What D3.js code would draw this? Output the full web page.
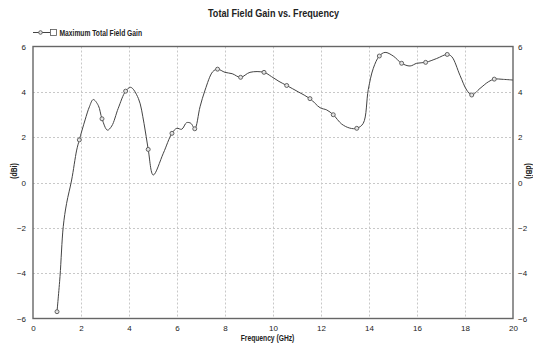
<html>
<head>
<meta charset="utf-8">
<title>Total Field Gain vs. Frequency</title>
<style>
  body { margin: 0; background: #fff; }
  text { font-family: "Liberation Sans", Arial, sans-serif; fill: #222; }
</style>
</head>
<body>
<script src="https://d3js.org/d3.v7.min.js"></script>
<script>
// frequency points (GHz) of the curve
var freq = [1.0, 1.125, 1.26, 1.4, 1.61, 1.82, 1.93, 2.17, 2.35, 2.51, 2.72, 2.875, 3.1, 3.28, 3.55,
            3.86, 4.07, 4.39, 4.625, 4.8, 5.01, 5.43, 5.79, 5.99, 6.2, 6.4, 6.58, 6.74, 6.96, 7.17,
            7.49, 7.69, 8.0, 8.3, 8.65, 9.04, 9.625, 9.94, 10.25, 10.57, 11.05, 11.54, 11.96, 12.24,
            12.51, 12.86, 13.2, 13.49, 13.76, 13.97, 14.18, 14.43, 14.67, 15.01, 15.36, 15.71, 15.99,
            16.36, 16.82, 17.26, 17.45, 17.79, 18.07, 18.28, 18.625, 18.97, 19.22, 19.6, 20.0]
// gain (dBi)
var gain = [-5.70, -4.15, -1.95, -0.92, 0.11, 1.43, 1.88, 2.76, 3.34, 3.66, 3.40, 2.81, 2.31, 2.49, 3.27,
            4.03, 4.20, 3.71, 2.61, 1.46, 0.33, 1.29, 2.17, 2.39, 2.35, 2.64, 2.61, 2.37, 3.34, 4.08,
            4.89, 5.00, 4.86, 4.80, 4.64, 4.86, 4.86, 4.67, 4.46, 4.28, 4.00, 3.70, 3.30, 3.20,
            2.99, 2.58, 2.40, 2.39, 2.61, 4.10, 5.04, 5.58, 5.74, 5.58, 5.26, 5.14, 5.26,
            5.30, 5.47, 5.65, 5.55, 4.73, 4.08, 3.86, 4.15, 4.44, 4.56, 4.55, 4.52]
// points that carry a marker
var markerFreq = [1.0, 1.93, 2.875, 3.86, 4.8, 5.79, 6.74, 7.69, 8.65, 9.625, 10.57, 11.54,
                  12.51, 13.49, 14.43, 15.36, 16.36, 17.26, 18.28, 19.22]
var xTicks = [0, 2, 4, 6, 8, 10, 12, 14, 16, 18, 20]
var yTicks = [-6, -4, -2, 0, 2, 4, 6]

var width = 533, height = 347
var padding = {left: 33, right: 20, top: 46.5, bottom: 28.5}

var svg = d3.select('body').append('svg')
    .attr('width', width)
    .attr('height', height)

var xScale = d3.scaleLinear().domain([0, 20]).range([padding.left, width - padding.right])
var yScale = d3.scaleLinear().domain([-6, 6]).range([height - padding.bottom, padding.top])

var pts = freq.map(function(f, i){ return {f: f, g: gain[i]} })

// grid
svg.append('g').selectAll('line')
    .data(xTicks.slice(1, -1))
    .enter().append('line')
    .attr('x1', function(d){ return Math.round(xScale(d)) + 0.5 })
    .attr('x2', function(d){ return Math.round(xScale(d)) + 0.5 })
    .attr('y1', yScale(6)).attr('y2', yScale(-6))
    .attr('stroke', '#c8c8c8').attr('stroke-dasharray', '2,2')
svg.append('g').selectAll('line')
    .data(yTicks.slice(1, -1))
    .enter().append('line')
    .attr('y1', function(d){ return Math.round(yScale(d)) + 0.5 })
    .attr('y2', function(d){ return Math.round(yScale(d)) + 0.5 })
    .attr('x1', xScale(0)).attr('x2', xScale(20))
    .attr('stroke', '#c8c8c8').attr('stroke-dasharray', '2,2')

// frame
svg.append('rect')
    .attr('x', xScale(0)).attr('y', yScale(6))
    .attr('width', xScale(20) - xScale(0))
    .attr('height', yScale(-6) - yScale(6))
    .attr('fill', 'none').attr('stroke', '#666').attr('stroke-width', 1.4)

// axes
var xAxis = d3.axisBottom(xScale).tickValues(xTicks).tickSize(0).tickPadding(7)
svg.append('g').attr('transform', 'translate(0,' + yScale(-6) + ')').call(xAxis)
var yAxisL = d3.axisLeft(yScale).tickValues(yTicks).tickSize(0).tickPadding(7)
svg.append('g').attr('transform', 'translate(' + xScale(0) + ',0)').call(yAxisL)
var yAxisR = d3.axisRight(yScale).tickValues(yTicks).tickSize(0).tickPadding(5)
svg.append('g').attr('transform', 'translate(' + xScale(20) + ',0)').call(yAxisR)
svg.selectAll('.domain').remove()
svg.selectAll('.tick text').attr('font-size', 8).attr('fill', '#333')
    .attr('font-family', '"Liberation Sans", Arial, sans-serif')

// curve
var line = d3.line()
    .x(function(d){ return xScale(d.f) })
    .y(function(d){ return yScale(d.g) })
    .curve(d3.curveCatmullRom.alpha(0.5))
svg.append('path').datum(pts)
    .attr('d', line)
    .attr('fill', 'none').attr('stroke', '#444').attr('stroke-width', 1)

svg.append('g').selectAll('circle')
    .data(pts.filter(function(d){ return markerFreq.indexOf(d.f) >= 0 }))
    .enter().append('circle')
    .attr('cx', function(d){ return xScale(d.f) })
    .attr('cy', function(d){ return yScale(d.g) })
    .attr('r', 2)
    .attr('fill', '#e4e4e4').attr('stroke', '#555').attr('stroke-width', 0.9)

// narrow text: scale the glyphs horizontally
function label(x, y, rot, size, str, anchor){
    return svg.append('text')
        .attr('transform', 'translate(' + x + ',' + y + ') rotate(' + rot + ') scale(0.79,1)')
        .attr('text-anchor', anchor || 'middle')
        .attr('font-size', size).attr('font-weight', 'bold')
        .text(str)
}
label(273.5, 17, 0, 11.5, 'Total Field Gain vs. Frequency')
label(267.5, 341, 0, 8.5, 'Frequency (GHz)')
label(17, 171, -90, 8.5, '(dBi)')
label(525.5, 171, 90, 8.5, '(dBi)')

// legend
var lg = svg.append('g')
lg.append('line').attr('x1', 33).attr('x2', 50).attr('y1', 32.5).attr('y2', 32.5)
    .attr('stroke', '#444')
lg.append('circle').attr('cx', 40.5).attr('cy', 32.5).attr('r', 1.8)
    .attr('fill', '#e4e4e4').attr('stroke', '#555').attr('stroke-width', 0.9)
lg.append('rect').attr('x', 50.5).attr('y', 29.5).attr('width', 6).attr('height', 6)
    .attr('fill', '#fff').attr('stroke', '#555').attr('stroke-width', 0.8)
label(59.5, 35.5, 0, 8.5, 'Maximum Total Field Gain', 'start')
</script>
</body>
</html>
